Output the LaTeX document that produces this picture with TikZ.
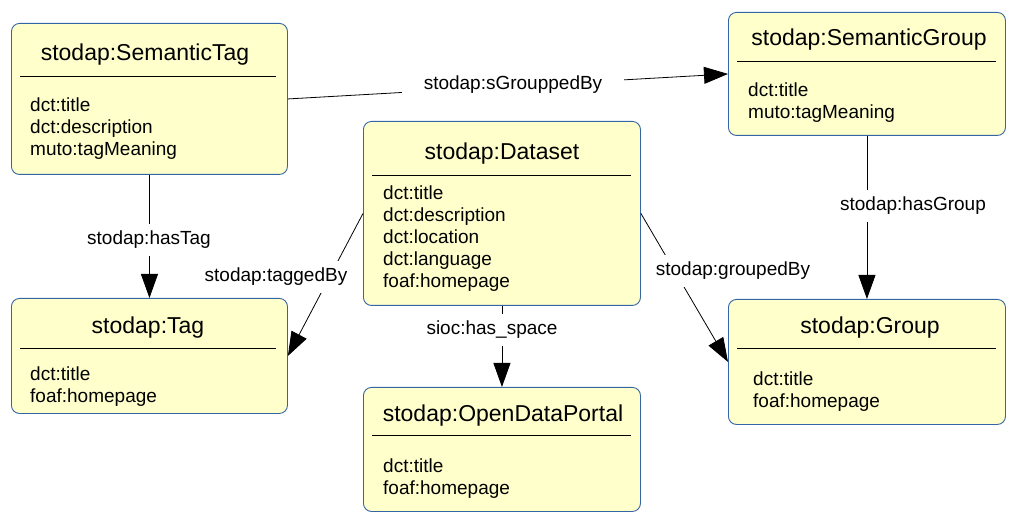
\documentclass[tikz,border=0pt]{standalone}
\usepackage{fontspec}
\setmainfont{Liberation Sans}
\usetikzlibrary{arrows.meta}
\definecolor{boxfill}{HTML}{FFFFCC}
\definecolor{boxline}{HTML}{3465A4}
\begin{document}
\begin{tikzpicture}[x=1pt,y=-1pt,
  umlbox/.style={draw=boxline, fill=boxfill, rounded corners=8pt, line width=0.9pt, inner sep=0pt, anchor=north west},
  titletext/.style={inner sep=0pt, font=\fontsize{23}{27}\selectfont, text height=16pt, text depth=4pt, anchor=center},
  attrtext/.style={inner sep=0pt, align=left, anchor=north west, font=\fontsize{19}{22}\selectfont},
  sepline/.style={line width=0.8pt, black},
  edge/.style={line width=0.8pt, -{Triangle[length=24pt,width=17pt]}},
  elabel/.style={fill=white, inner xsep=14pt, inner ysep=7pt, font=\fontsize{19}{22}\selectfont, text height=14pt, text depth=4pt}
]
\useasboundingbox (0,0) rectangle (1026,529);

% boxes
\node[umlbox, minimum width=276pt, minimum height=151pt] (st) at (11,23) {};
\node[umlbox, minimum width=277pt, minimum height=123pt] (sg) at (728,12) {};
\node[umlbox, minimum width=277pt, minimum height=184pt] (ds) at (363,121) {};
\node[umlbox, minimum width=276pt, minimum height=115pt] (tg) at (11,298) {};
\node[umlbox, minimum width=277pt, minimum height=124pt] (odp) at (363,387) {};
\node[umlbox, minimum width=277pt, minimum height=125pt] (gr) at (728,299) {};

% titles
\node[titletext] (stt) at (145,55) {stodap:SemanticTag};
\node[titletext] (sgt) at (869,40) {stodap:SemanticGroup};
\node[titletext] (dst) at (502,154) {stodap:Dataset};
\node[titletext] (tgt) at (148,328) {stodap:Tag};
\node[titletext] (odpt) at (503,415) {stodap:OpenDataPortal};
\node[titletext] (grt) at (870,328) {stodap:Group};

% separators
\draw[sepline] (20,76) -- (276,76);
\draw[sepline] (737,61) -- (996,61);
\draw[sepline] (372,175) -- (631,175);
\draw[sepline] (20,348) -- (276,348);
\draw[sepline] (372,435) -- (631,435);
\draw[sepline] (737,348) -- (996,348);

% attributes
\node[attrtext] (sta) at (30,98) {dct:title\\dct:description\\muto:tagMeaning};
\node[attrtext] (sga) at (748,83) {dct:title\\muto:tagMeaning};
\node[attrtext] (dsa) at (383,186) {dct:title\\dct:description\\dct:location\\dct:language\\foaf:homepage};
\node[attrtext] (tga) at (30,367) {dct:title\\foaf:homepage};
\node[attrtext] (odpa) at (383,459) {dct:title\\foaf:homepage};
\node[attrtext] (gra) at (753,372) {dct:title\\foaf:homepage};

% edges
\draw[edge] (st.east) -- (sg.west);
\draw[edge] (st.south) -- (tg.north);
\draw[edge] (sg.south) -- (gr.north);
\draw[edge] (ds.west) -- (tg.east);
\draw[edge] (ds.east) -- (gr.west);
\draw[edge] (ds.south) -- (odp.north);

% edge labels
\node[elabel, inner xsep=22pt] (l1) at (513,85) {stodap:sGrouppedBy};
\node[elabel] (l2) at (149,240) {stodap:hasTag};
\node[elabel] (l3) at (913,206) {stodap:hasGroup};
\node[elabel, inner xsep=8pt] (l4) at (276,277) {stodap:taggedBy};
\node[elabel, inner xsep=8pt] (l5) at (733,271) {stodap:groupedBy};
\node[elabel] (l6) at (492,330) {sioc:has\_space};
\end{tikzpicture}
\end{document}
